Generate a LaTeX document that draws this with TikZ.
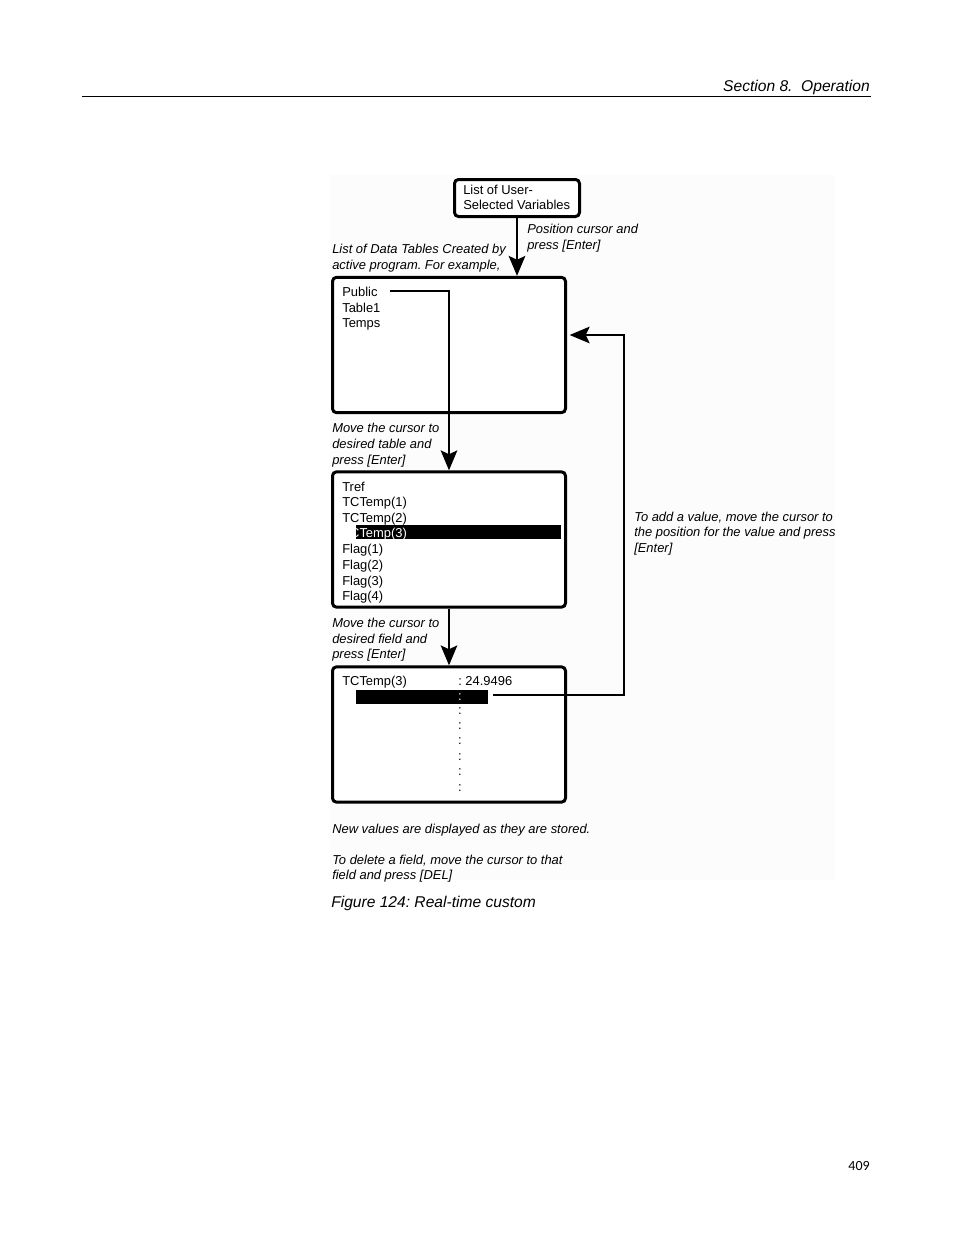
\documentclass[tikz,border=0pt]{standalone}
\usepackage{fontspec}
\setmainfont{Liberation Sans}
\newfontfamily\pagenumfont{Carlito}
\usetikzlibrary{arrows.meta}
\definecolor{figbg}{RGB}{252,252,252}
\frenchspacing
\begin{document}
\begin{tikzpicture}[x=0.75pt,y=-0.75pt,
  scrbox/.style={draw, line width=2.25pt, rounded corners=3pt, fill=white, inner sep=0pt,
                 minimum width=174.75pt, minimum height=101.5pt},
  lbl/.style={anchor=base west, inner sep=0pt, font=\fontsize{9.7}{11.6}\selectfont},
  note/.style={anchor=base west, inner sep=0pt, font=\fontsize{9.7}{11.6}\selectfont\itshape},
  colon/.style={inner sep=0pt, font=\fontsize{9.7}{11.6}\selectfont},
  conn/.style={line width=1.5pt, -{Stealth[length=15pt,width=12.5pt,inset=3pt]}},
  hbar/.style={fill=black, draw=none}
]
\useasboundingbox (0,0) rectangle (954,1235);
% header
\node[anchor=base east, inner sep=0pt, font=\fontsize{11.7}{14}\selectfont\itshape] (hdr) at (870,91.5) {Section 8.\ \ Operation};
\draw[line width=0.8pt] (82,96.5) -- (871,96.5);
% figure background
\fill[figbg] (330,175) rectangle (835,880);
% boxes
\node[scrbox, minimum width=93.75pt, minimum height=27.75pt] (b1) at (517,198) {};
\node[scrbox] (b2) at (449,345) {};
\node[scrbox] (b3) at (449,539.5) {};
\node[scrbox] (b4) at (449,734.5) {};
% box1 text
\node[lbl] (t1a) at (463,194.5) {List of User-};
\node[lbl] (t1b) at (463,209.5) {Selected Variables};
% notes
\node[note] (n1a) at (527,233) {Position cursor and};
\node[note] (n1b) at (527,249) {press [Enter]};
\node[note] (n2a) at (332,253) {List of Data Tables Created by};
\node[note] (n2b) at (332,269) {active program. For example,};
% box2 text
\node[lbl] (pub) at (342,296) {Public};
\node[lbl] (tab1) at (342,312) {Table1};
\node[lbl] (temps) at (342,327) {Temps};
\node[note] (n3a) at (332,432) {Move the cursor to};
\node[note] (n3b) at (332,448) {desired table and};
\node[note] (n3c) at (332,464) {press [Enter]};
% box3 text
\node[lbl] (tref) at (342,491) {Tref};
\node[lbl] (tc1) at (342,506) {TCTemp(1)};
\node[lbl] (tc2) at (342,522) {TCTemp(2)};
\fill[hbar] (356,525) rectangle (561,539);
\node[lbl, text=white] (tc3) at (342,537) {TCTemp(3)};
\node[lbl] (f1) at (342,553) {Flag(1)};
\node[lbl] (f2) at (342,569) {Flag(2)};
\node[lbl] (f3) at (342,585) {Flag(3)};
\node[lbl] (f4) at (342,600) {Flag(4)};
\node[note] (n4a) at (332,627) {Move the cursor to};
\node[note] (n4b) at (332,643) {desired field and};
\node[note] (n4c) at (332,658) {press [Enter]};
% box4 text
\node[lbl] (tc3b) at (342,685) {TCTemp(3)};
\node[lbl] (val) at (458,685) {: 24.9496};
\fill[hbar] (356,690) rectangle (488,704);
\node[colon, text=white] (k0) at (460,697) {:};
\node[colon] (k1) at (460,711.5) {:};
\node[colon] (k2) at (460,726.5) {:};
\node[colon] (k3) at (460,741.5) {:};
\node[colon] (k4) at (460,757) {:};
\node[colon] (k5) at (460,772.5) {:};
\node[colon] (k6) at (460,788) {:};
% right note
\node[note] (n5a) at (634,521) {To add a value, move the cursor to};
\node[note] (n5b) at (634,536) {the position for the value and press};
\node[note] (n5c) at (634,552) {[Enter]};
% bottom notes
\node[note] (n6) at (332,833) {New values are displayed as they are stored.};
\node[note] (n7a) at (332,864) {To delete a field, move the cursor to that};
\node[note] (n7b) at (332,879) {field and press [DEL]};
\node[anchor=base west, inner sep=0pt, font=\fontsize{11.7}{14}\selectfont\itshape] (cap) at (331,907) {Figure 124: Real-time custom};
\node[anchor=base east, inner sep=0pt, font=\pagenumfont\fontsize{10.5}{12}\selectfont] (pg) at (870,1170) {409};
% connectors
\coordinate (c1) at (390,291);
\coordinate (c2) at (493,695);
\coordinate (r) at (624,335);
\draw[conn] (b1.south) -- (b1.south |- b2.north);
\draw[conn] (c1) -| (b3.north);
\draw[conn] (b3.south) -- (b4.north);
\draw[conn, shorten >=2pt] (c2) -| (r) -- (b2.east |- r);
\end{tikzpicture}
\end{document}
